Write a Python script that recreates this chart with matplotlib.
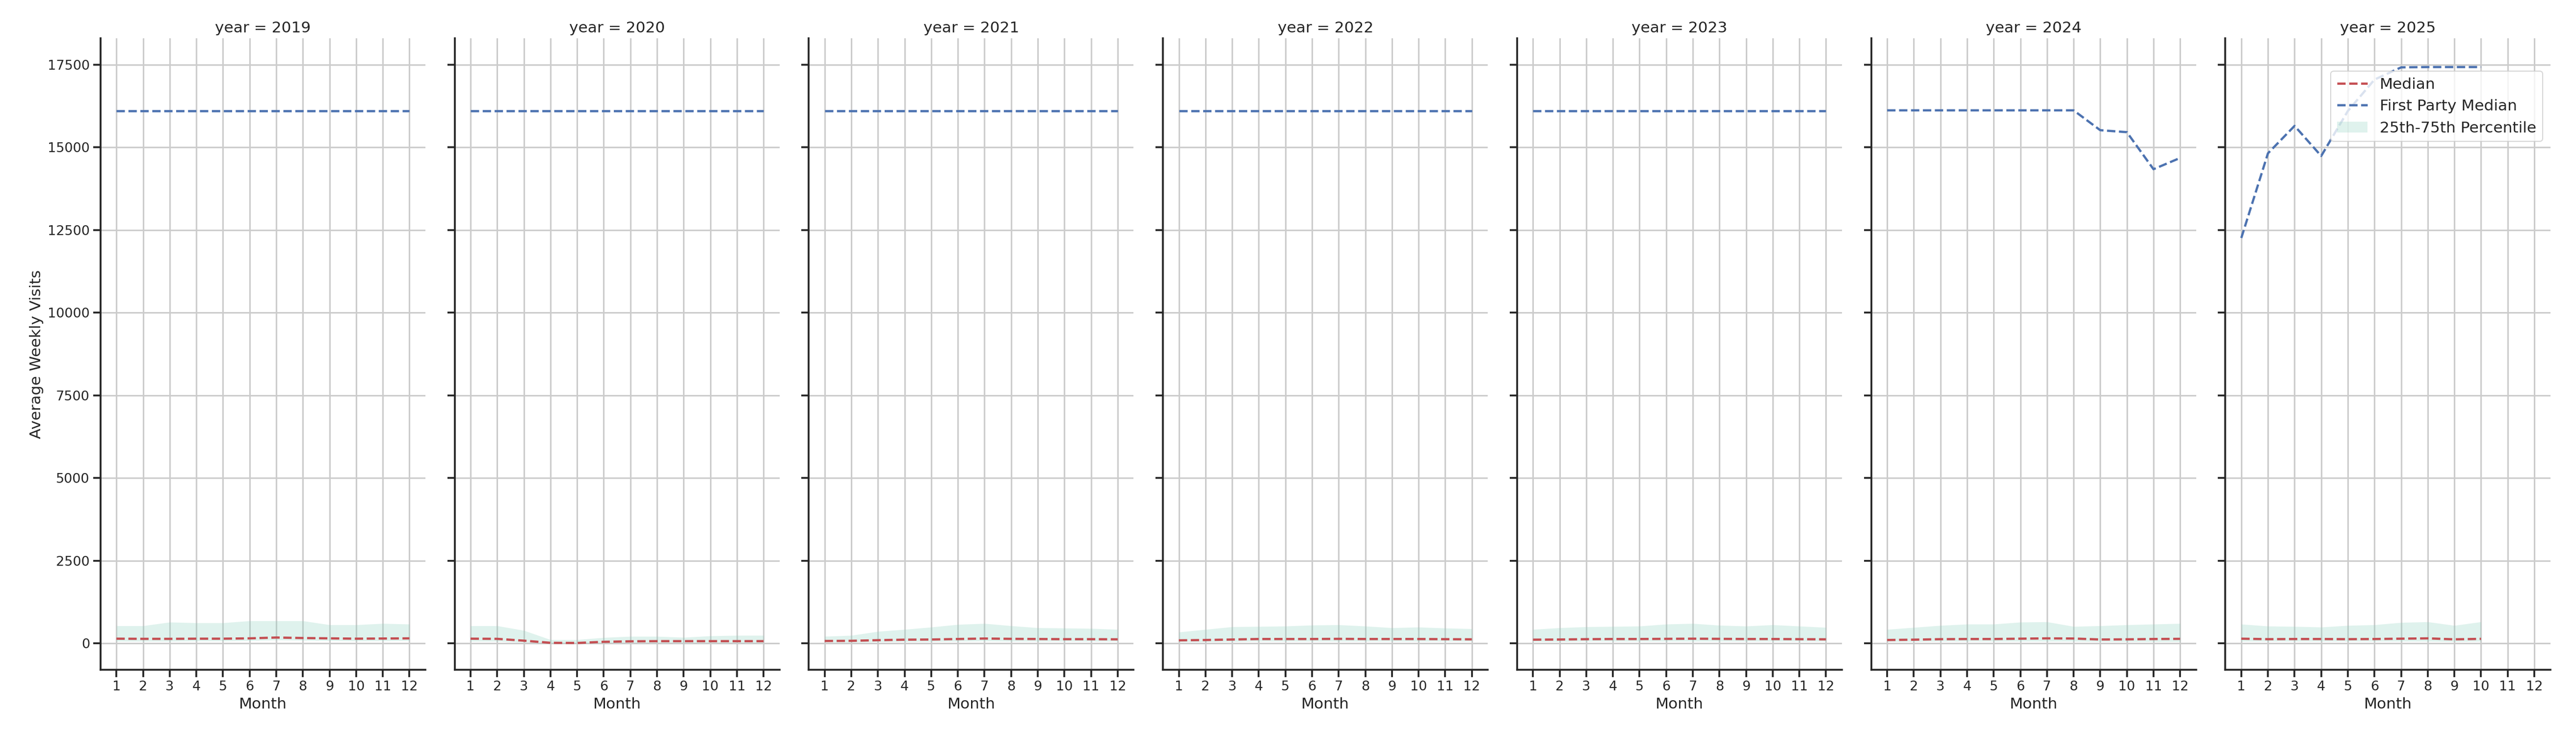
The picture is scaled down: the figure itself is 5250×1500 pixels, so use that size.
import matplotlib
matplotlib.use("Agg")
import matplotlib.pyplot as plt
import seaborn as sns
import numpy as np

sns.set_theme(style="whitegrid")
sns.set_style("whitegrid", {"axes.edgecolor": "0.15", "xtick.bottom": True, "ytick.left": True})

years = [2019, 2020, 2021, 2022, 2023, 2024, 2025]
months = list(range(1, 13))

median = {
    2019: [140, 135, 135, 140, 140, 150, 175, 160, 150, 140, 145, 150],
    2020: [140, 135, 80, 15, 10, 45, 60, 65, 65, 65, 65, 65],
    2021: [70, 75, 95, 110, 115, 130, 145, 135, 130, 125, 125, 120],
    2022: [90, 100, 115, 130, 130, 130, 135, 130, 130, 130, 125, 120],
    2023: [110, 115, 125, 130, 130, 135, 140, 135, 130, 130, 125, 120],
    2024: [100, 110, 125, 130, 130, 140, 150, 145, 115, 120, 130, 135],
    2025: [140, 125, 130, 130, 125, 130, 140, 150, 120, 135],
}
p25 = {
    2019: [60, 60, 60, 70, 70, 80, 100, 90, 80, 70, 75, 80],
    2020: [60, 60, 30, 0, 0, 10, 20, 20, 20, 20, 20, 20],
    2021: [30, 30, 40, 50, 50, 60, 70, 60, 60, 60, 60, 60],
    2022: [40, 40, 50, 60, 60, 60, 60, 60, 60, 60, 60, 60],
    2023: [50, 50, 60, 60, 60, 60, 60, 60, 60, 60, 60, 60],
    2024: [50, 50, 60, 60, 60, 60, 60, 60, 50, 50, 50, 50],
    2025: [60, 60, 60, 60, 60, 60, 60, 60, 50, 60],
}
p75 = {
    2019: [530, 530, 640, 620, 620, 680, 680, 680, 560, 560, 600, 580],
    2020: [530, 530, 390, 110, 110, 175, 210, 210, 180, 225, 240, 240],
    2021: [210, 240, 360, 420, 490, 570, 600, 530, 470, 460, 450, 420],
    2022: [340, 420, 500, 510, 520, 550, 560, 520, 470, 490, 460, 440],
    2023: [420, 470, 500, 510, 520, 580, 600, 545, 520, 560, 520, 480],
    2024: [420, 480, 540, 580, 580, 640, 650, 510, 530, 560, 580, 600],
    2025: [580, 520, 510, 490, 540, 560, 630, 650, 540, 650],
}
first_party = {y: [16100] * 12 for y in [2019, 2020, 2021, 2022, 2023]}
first_party[2024] = [16120, 16120, 16120, 16120, 16120, 16120, 16120, 16120, 15520, 15460, 14340, 14680]
first_party[2025] = [12260, 14820, 15650, 14740, 16100, 17050, 17420, 17430, 17430, 17430]

fig, axes = plt.subplots(1, 7, figsize=(35, 10), dpi=150, sharey=True)
fig.subplots_adjust(left=0.039, right=0.99, top=0.948, bottom=0.09, wspace=0.09)

red = "#c44e52"
blue = "#4c72b0"
for ax, y in zip(axes, years):
    n = len(median[y])
    x = months[:n]
    ax.fill_between(x, p25[y], p75[y], color="#8fd3bf", alpha=0.28, linewidth=0,
                    label="25th-75th Percentile")
    ax.plot(x, median[y], color=red, linestyle="--", linewidth=2.2, label="Median")
    ax.plot(x, first_party[y], color=blue, linestyle="--", linewidth=2.2, label="First Party Median")
    ax.set_title(f"year = {y}", fontsize=15)
    ax.set_xticks(months)
    ax.set_xlim(0.4, 12.6)
    ax.set_ylim(-800, 18300)
    ax.set_yticks([0, 2500, 5000, 7500, 10000, 12500, 15000, 17500])
    ax.set_xlabel("Month", fontsize=15)
    ax.tick_params(axis="both", labelsize=13, length=7, width=1.8)
    for s in ["top", "right"]:
        ax.spines[s].set_visible(False)
    ax.spines["left"].set_linewidth(1.8)
    ax.spines["bottom"].set_linewidth(1.8)
    ax.grid(True, color="#cccccc", linewidth=1.5)
axes[0].set_ylabel("Average Weekly Visits", fontsize=15)
h, l = axes[-1].get_legend_handles_labels()
order = [1, 2, 0]
axes[-1].legend([h[i] for i in order], [l[i] for i in order], loc="upper right",
                fontsize=15, bbox_to_anchor=(1.0, 0.96))
fig.savefig("out.png")
